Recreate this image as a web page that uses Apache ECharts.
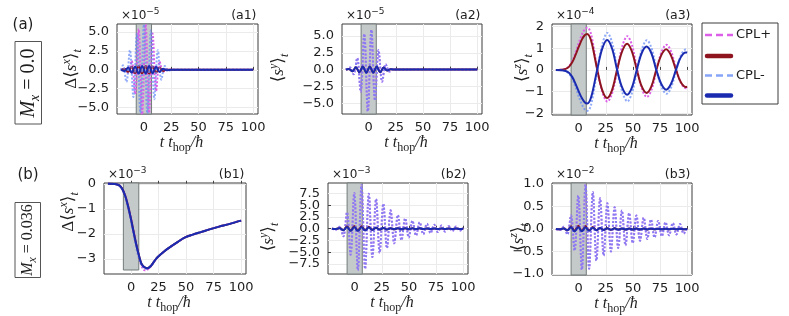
<!DOCTYPE html>
<html><head><meta charset="utf-8">
<script src="https://cdn.jsdelivr.net/npm/echarts@6/dist/echarts.min.js"></script>
<style>html,body{margin:0;padding:0;background:#fff}#c{width:789px;height:316px}</style>
</head><body><div id="c"></div>
<script>
// ---------------- DATA ----------------
const xTickValues = [0, 25, 50, 75, 100];
const pulseT = [-7, 7];
const b1ShadeY = [-3.44, 0.03];

const a1YTicks = [-5, -2.5, 0, 2.5, 5];
const a2YTicks = [-5, -2.5, 0, 2.5, 5];
const a3YTicks = [-2, -1, 0, 1, 2];
const b1YTicks = [-3, -2, -1, 0];
const b2YTicks = [-7.5, -2.5, 2.5, 7.5];
const b2YTicksAlt = [-5, 0, 5];
const b3YTicks = [-1, -0.5, 0, 0.5, 1];

const exponents = ['-5', '-5', '-4', '-3', '-3', '-2'];
const panelTags = ['(a1)', '(a2)', '(a3)', '(b1)', '(b2)', '(b3)'];

// (a1) Δ<s^x>_t  ×1e-5
const a1PlusDot = [[-21,0],[-17.6,0.1],[-14.4,-0.4],[-11.2,1.2],[-8,-3.2],[-4.8,5.4],[-1.6,-5.9],[1.6,6.0],[4.8,-5.7],[8,4.8],[11.2,-2.8],[14.4,1.1],[17.6,-0.3],[20.8,0.1],[25,0],[50,0],[75,0],[100,0]];
const a1PlusSolid = [[-21,0],[-17.6,0.15],[-14.4,-0.3],[-11.2,0.4],[-8,-0.45],[-4.8,0.5],[-1.6,-0.5],[1.6,0.5],[4.8,-0.5],[8,0.45],[11.2,-0.4],[14.4,0.3],[17.6,-0.15],[20.8,0.05],[25,0],[50,0],[75,0],[100,0]];
const a1MinusDot = [[-21,0],[-19.2,0.6],[-16,-1.6],[-12.8,2.6],[-9.6,-3.6],[-6.4,4.8],[-3.2,-5.7],[0,6.0],[3.2,-5.8],[6.4,5.2],[9.6,-3.9],[12.8,2.6],[16,-1.3],[19.2,0.5],[22.4,-0.1],[26,0],[50,0],[75,0],[100,0]];
const a1MinusSolid = [[-21,0],[-17.6,-0.15],[-14.4,0.3],[-11.2,-0.4],[-8,0.45],[-4.8,-0.5],[-1.6,0.5],[1.6,-0.5],[4.8,0.5],[8,-0.45],[11.2,0.4],[14.4,-0.3],[17.6,0.15],[20.8,-0.05],[25,0],[50,0],[75,0],[100,0]];

// (a2) <s^y>_t  ×1e-5 (CPL+ and CPL- coincide)
const a2Dot = [[-21,0],[-17.2,0.3],[-13.9,-0.7],[-10.6,1.7],[-7.4,-3.3],[-4.1,5.3],[-0.8,-6.2],[2.5,5.9],[5.8,-4.6],[9.1,2.9],[12.4,-1.8],[15.7,0.8],[19,-0.3],[22.3,0.1],[26,0],[50,0.05],[75,0],[100,0]];
const a2Solid = [[-21,0],[-18.2,0.1],[-15,-0.25],[-11.8,0.35],[-8.6,-0.4],[-5.4,0.45],[-2.2,-0.45],[1,0.45],[4.2,-0.45],[7.4,0.45],[10.6,-0.4],[13.8,0.3],[17,-0.15],[20.2,0.05],[25,0],[50,0],[75,0],[100,0]];

// (a3) <s^z>_t  ×1e-4
const a3PlusDot = [[-21,0],[-16,0.01],[-12,0.06],[-9,0.17],[-6,0.4],[-3,0.78],[0,1.24],[3,1.64],[5.6,1.87],[7.9,1.95],[10.2,1.83],[12.6,1.38],[17.2,0.02],[21.8,-1.03],[26.4,-1.46],[31,-1.04],[35.6,0.02],[40.2,1.1],[44.8,1.56],[49.3,1.11],[53.8,0.02],[58.3,-0.88],[62.8,-1.25],[67.3,-0.89],[71.8,0.02],[76.3,0.82],[80.9,1.16],[85.3,0.83],[89.9,0.02],[94.3,-0.6],[98.9,-0.85],[100,-0.84]];
const a3PlusSolid = [[-21,0],[-16,0.01],[-12,0.05],[-9,0.14],[-6,0.35],[-3,0.68],[0,1.06],[3,1.41],[5.5,1.6],[7.7,1.66],[10,1.55],[12.4,1.17],[17,0.03],[21.6,-0.92],[26.2,-1.3],[30.8,-0.92],[35.4,0.02],[40,0.86],[44.6,1.21],[49,0.86],[53.5,0.02],[58,-0.75],[62.5,-1.06],[67,-0.76],[71.5,0.01],[76,0.67],[80.6,0.95],[85,0.67],[89.6,0.01],[94,-0.56],[98.7,-0.79],[100,-0.78]];
const a3MinusDot = [[-21,0],[-16,-0.01],[-12,-0.06],[-9,-0.17],[-6,-0.4],[-3,-0.77],[0,-1.22],[3,-1.6],[5.6,-1.82],[7.9,-1.89],[10.2,-1.78],[12.6,-1.34],[17.2,0.0],[21.8,1.2],[26.4,1.71],[31,1.22],[35.6,0.0],[40.2,-1.02],[44.8,-1.45],[49.3,-1.03],[53.8,0.0],[58.3,0.97],[62.8,1.37],[67.3,0.98],[71.8,0.0],[76.3,-0.78],[80.9,-1.1],[85.3,-0.79],[89.9,0.0],[94.3,0.68],[98.9,0.95],[100,0.94]];
const a3MinusSolid = [[-21,0],[-16,-0.01],[-12,-0.05],[-9,-0.13],[-6,-0.32],[-3,-0.63],[0,-0.99],[3,-1.31],[5.5,-1.49],[7.7,-1.55],[10,-1.45],[12.4,-1.09],[17,0.0],[21.6,0.97],[26.2,1.38],[30.8,0.98],[35.4,0.0],[40,-0.81],[44.6,-1.15],[49,-0.82],[53.5,0.0],[58,0.77],[62.5,1.08],[67,0.77],[71.5,0.0],[76,-0.64],[80.6,-0.91],[85,-0.65],[89.6,0.0],[94,0.58],[98.7,0.81],[100,0.8]];

// (b1) Δ<s^x>_t  ×1e-3
const b1PlusDot = [[-21,0],[-15,-0.01],[-12,-0.04],[-9.8,-0.1],[-7.5,-0.24],[-5.2,-0.48],[-3,-0.82],[-0.6,-1.26],[1.5,-1.7],[3.1,-2.05],[4.7,-2.4],[6.2,-2.72],[7.7,-3.0],[9.2,-3.25],[10.8,-3.39],[12.4,-3.45],[14.8,-3.43],[17.9,-3.3],[21,-3.11],[24,-2.94],[30,-2.7],[36.3,-2.5],[42.5,-2.32],[48.6,-2.15],[56,-2.03],[64,-1.92],[72,-1.81],[80,-1.71],[88,-1.62],[95,-1.53],[100,-1.47]];
const b1PlusSolid = [[-21,0],[-15,-0.01],[-12,-0.04],[-9.8,-0.1],[-7.5,-0.25],[-5.2,-0.5],[-3,-0.85],[-0.6,-1.3],[1.5,-1.75],[3.1,-2.1],[4.7,-2.42],[6.2,-2.7],[7.7,-2.95],[9.2,-3.17],[10.8,-3.28],[12.4,-3.34],[14.8,-3.37],[17.9,-3.28],[21,-3.1],[24,-2.93],[30,-2.7],[36.3,-2.5],[42.5,-2.32],[48.6,-2.15],[56,-2.03],[64,-1.92],[72,-1.81],[80,-1.71],[88,-1.62],[95,-1.53],[100,-1.47]];
const b1MinusDot = [[-21,0],[-15,-0.01],[-12,-0.05],[-9.8,-0.12],[-7.5,-0.28],[-5.2,-0.55],[-3,-0.92],[-0.6,-1.38],[1.5,-1.85],[3.1,-2.2],[4.7,-2.55],[6.2,-2.82],[7.7,-3.05],[9.2,-3.22],[10.8,-3.32],[12.4,-3.38],[14.8,-3.4],[17.9,-3.29],[21,-3.1],[24,-2.93],[30,-2.7],[36.3,-2.5],[42.5,-2.32],[48.6,-2.15],[56,-2.03],[64,-1.92],[72,-1.81],[80,-1.71],[88,-1.62],[95,-1.53],[100,-1.47]];
const b1MinusSolid = [[-21,0],[-15,-0.01],[-12,-0.04],[-9.8,-0.1],[-7.5,-0.25],[-5.2,-0.5],[-3,-0.85],[-0.6,-1.3],[1.5,-1.75],[3.1,-2.1],[4.7,-2.42],[6.2,-2.7],[7.7,-2.95],[9.2,-3.17],[10.8,-3.28],[12.4,-3.34],[14.8,-3.37],[17.9,-3.28],[21,-3.1],[24,-2.93],[30,-2.7],[36.3,-2.5],[42.5,-2.32],[48.6,-2.15],[56,-2.03],[64,-1.92],[72,-1.81],[80,-1.71],[88,-1.62],[95,-1.53],[100,-1.47]];

// (b2) <s^y>_t  ×1e-3 (dotted CPL+ and CPL- coincide)
const b2Dot = [[-21,0],[-17.2,-0.2],[-13.8,0.4],[-10.5,-1.6],[-7.1,3.5],[-3.8,-5.5],[-0.4,7.6],[2.9,-8.8],[6.3,9.3],[9.6,-8.5],[13,7.4],[16.3,-6.0],[19.7,6.3],[23,-5.1],[26.4,5.3],[29.7,-4.1],[33.1,3.9],[36.4,-3.1],[39.8,2.9],[43.1,-2.4],[46.5,2.2],[49.8,-1.85],[53.2,1.7],[56.5,-1.45],[59.9,1.35],[63.2,-1.15],[66.6,1.05],[69.9,-0.9],[73.3,0.85],[76.6,-0.7],[80,0.7],[83.3,-0.6],[86.7,0.55],[90,-0.5],[93.4,0.45],[96.7,-0.4],[100,0.2]];
const b2PlusSolid = [[-21,0],[-17.2,-0.05],[-13.8,0.14],[-10.5,-0.3],[-7.1,0.55],[-3.8,-0.4],[-0.4,0.6],[2.9,-0.4],[6.3,0.55],[9.6,-0.3],[13,0.4],[16.3,-0.22],[19.7,0.2],[23,-0.17],[26.4,0.15],[29.7,-0.14],[33.1,0.12],[36.4,-0.12],[39.8,0.1],[43.1,-0.1],[46.5,0.1],[49.8,-0.09],[53.2,0.08],[56.5,-0.08],[59.9,0.08],[63.2,-0.07],[66.6,0.07],[69.9,-0.07],[73.3,0.06],[76.6,-0.06],[80,0.06],[83.3,-0.05],[86.7,0.05],[90,-0.05],[93.4,0.05],[96.7,-0.04],[100,0]];
const b2MinusSolid = [[-21,0],[-17.2,-0.05],[-13.8,0.12],[-10.5,-0.3],[-7.1,0.35],[-3.8,-0.45],[-0.4,0.3],[2.9,-0.45],[6.3,0.3],[9.6,-0.35],[13,0.25],[16.3,-0.25],[19.7,0.2],[23,-0.18],[26.4,0.15],[29.7,-0.15],[33.1,0.12],[36.4,-0.12],[39.8,0.1],[43.1,-0.1],[46.5,0.1],[49.8,-0.1],[53.2,0.08],[56.5,-0.08],[59.9,0.08],[63.2,-0.08],[66.6,0.07],[69.9,-0.07],[73.3,0.07],[76.6,-0.06],[80,0.06],[83.3,-0.06],[86.7,0.05],[90,-0.05],[93.4,0.05],[96.7,-0.05],[100,0]];

// (b3) <s^z>_t  ×1e-2 (dotted CPL+ and CPL- coincide)
const b3Dot = [[-21,0],[-17.2,-0.02],[-13.8,0.05],[-10.5,-0.12],[-7.1,0.3],[-3.8,-0.48],[-0.4,0.74],[2.9,-0.9],[6.3,0.98],[9.6,-0.88],[13,0.82],[16.3,-0.7],[19.7,0.68],[23,-0.59],[26.4,0.57],[29.7,-0.5],[33.1,0.48],[36.4,-0.42],[39.8,0.41],[43.1,-0.36],[46.5,0.35],[49.8,-0.31],[53.2,0.3],[56.5,-0.26],[59.9,0.25],[63.2,-0.22],[66.6,0.21],[69.9,-0.19],[73.3,0.18],[76.6,-0.16],[80,0.15],[83.3,-0.14],[86.7,0.13],[90,-0.12],[93.4,0.11],[96.7,-0.1],[100,0.03]];
const b3PlusSolid = [[-21,0],[-17.2,-0.005],[-13.8,0.015],[-10.5,-0.03],[-7.1,0.06],[-3.8,-0.04],[-0.4,0.07],[2.9,-0.04],[6.3,0.065],[9.6,-0.03],[13,0.045],[16.3,-0.025],[19.7,0.02],[23,-0.018],[26.4,0.016],[29.7,-0.015],[33.1,0.014],[36.4,-0.013],[39.8,0.012],[43.1,-0.012],[46.5,0.011],[49.8,-0.01],[53.2,0.01],[56.5,-0.01],[59.9,0.009],[63.2,-0.009],[66.6,0.008],[69.9,-0.008],[73.3,0.008],[76.6,-0.007],[80,0.007],[83.3,-0.007],[86.7,0.006],[90,-0.006],[93.4,0.006],[96.7,-0.005],[100,0]];
const b3MinusSolid = [[-21,0],[-17.2,-0.005],[-13.8,0.012],[-10.5,-0.03],[-7.1,0.04],[-3.8,-0.055],[-0.4,0.04],[2.9,-0.05],[6.3,0.035],[9.6,-0.04],[13,0.03],[16.3,-0.028],[19.7,0.022],[23,-0.02],[26.4,0.017],[29.7,-0.016],[33.1,0.014],[36.4,-0.014],[39.8,0.012],[43.1,-0.012],[46.5,0.011],[49.8,-0.011],[53.2,0.01],[56.5,-0.01],[59.9,0.009],[63.2,-0.009],[66.6,0.009],[69.9,-0.008],[73.3,0.008],[76.6,-0.008],[80,0.007],[83.3,-0.007],[86.7,0.006],[90,-0.006],[93.4,0.006],[96.7,-0.005],[100,0]];

// ---------------- STYLE / LAYOUT ----------------
const INK = '#1e1e1e';
const SERIF = '"Liberation Serif", "DejaVu Serif", serif';
const SANS = '"DejaVu Sans", sans-serif';
const COL = {
  plusDot: '#dc5fe8',
  plusSolid: '#8e1520',
  minusDot: 'rgba(100,137,246,0.72)',
  minusSolid: '#1b2bb0'
};
const X_RANGE = [-24.6, 104.4];

const panels = [
  {box:[117,24,141,90],  y:[-5.85,6.07], yt:a1YTicks, dec:1, s:[a1PlusDot,a1PlusSolid,a1MinusDot,a1MinusSolid], ylab:'{r|Δ⟨}{i|s}{sup|x}{r|⟩}{sub|t}', ylx:72,  yly:69,  shade:null},
  {box:[342,24,140,90],  y:[-6.6,6.78],  yt:a2YTicks, dec:1, s:[a2Dot,a2Solid,a2Dot,a2Solid], ylab:'{r|⟨}{i|s}{sup|y}{r|⟩}{sub|t}', ylx:279, yly:68, shade:null},
  {box:[552,24,140,91],  y:[-2.08,2.12], yt:a3YTicks, dec:0, s:[a3PlusDot,a3PlusSolid,a3MinusDot,a3MinusSolid], ylab:'{r|⟨}{i|s}{sup|z}{r|⟩}{sub|t}', ylx:523, yly:68, shade:null},
  {box:[104,183,142,91], y:[-3.6,0.03],  yt:b1YTicks, dec:0, s:[b1PlusDot,b1PlusSolid,b1MinusDot,b1MinusSolid], ylab:'{r|Δ⟨}{i|s}{sup|x}{r|⟩}{sub|t}', ylx:69, yly:212, shade:b1ShadeY},
  {box:[328,183,140,91], y:[-9.6,9.7],   yt:b2YTicks, yt2:b2YTicksAlt, dec:1, s:[b2Dot,b2PlusSolid,b2Dot,b2MinusSolid], ylab:'{r|⟨}{i|s}{sup|y}{r|⟩}{sub|t}', ylx:269, yly:237, shade:null},
  {box:[552,183,140,92], y:[-1.02,1.02], yt:b3YTicks, dec:1, s:[b3Dot,b3PlusSolid,b3Dot,b3MinusSolid], ylab:'{r|⟨}{i|s}{sup|z}{r|⟩}{sub|t}', ylx:519, yly:237, shade:null}
];

function mathRich(size) {
  const lh = Math.round(size * 1.35), sl = Math.round(size * 0.72);
  return {
    r:   {fontFamily: SERIF, fontSize: size, lineHeight: lh, fill: INK},
    i:   {fontFamily: SERIF, fontSize: size, lineHeight: lh, fontStyle: 'italic', fill: INK},
    sup: {fontFamily: SERIF, fontSize: sl, lineHeight: sl, fontStyle: 'italic', verticalAlign: 'top', fill: INK},
    sub: {fontFamily: SERIF, fontSize: sl, lineHeight: sl, fontStyle: 'italic', verticalAlign: 'bottom', fill: INK},
    subr:{fontFamily: SERIF, fontSize: sl, lineHeight: sl, verticalAlign: 'bottom', fill: INK}
  };
}
function fmt(dec) {
  return v => Number(v).toFixed(dec).replace('-', '−');
}
function yAxisDef(i, p, ticks) {
  return {type: 'value', gridIndex: i, position: 'left', offset: 0, min: p.y[0], max: p.y[1],
    axisLine: {show: false},
    axisTick: {show: true, inside: true, length: 3, customValues: ticks, lineStyle: {color: '#444'}},
    axisLabel: {customValues: ticks, margin: 8, fontSize: 13, fontFamily: SANS, color: INK, formatter: fmt(p.dec),
                showMinLabel: true, showMaxLabel: true, hideOverlap: false},
    splitLine: {show: true, lineStyle: {color: '#ebebeb', width: 1}}};
}

const grids = [], xAxes = [], yAxes = [], extraY = [], series = [], graphics = [];
const kinds = ['plusDot', 'plusSolid', 'minusDot', 'minusSolid'];

panels.forEach((p, i) => {
  const [l, t, w, h] = p.box;
  grids.push({left: l, top: t, width: w, height: h, show: true, borderColor: '#3c3c3c', borderWidth: 1,
              backgroundColor: '#fff', containLabel: false, outerBoundsMode: 'none'});
  xAxes.push({type: 'value', gridIndex: i, min: X_RANGE[0], max: X_RANGE[1],
    axisLine: {show: false},
    axisTick: {show: true, inside: true, length: 3, customValues: xTickValues, lineStyle: {color: '#444'}},
    axisLabel: {customValues: xTickValues, margin: 7, fontSize: 13, fontFamily: SANS, color: INK, formatter: fmt(0),
                showMinLabel: true, showMaxLabel: true, hideOverlap: false},
    splitLine: {show: true, lineStyle: {color: '#ebebeb', width: 1}}});
  yAxes.push(yAxisDef(i, p, p.yt));
  if (p.yt2) extraY.push(yAxisDef(i, p, p.yt2));

  const area = p.shade
    ? [[{xAxis: pulseT[0], yAxis: p.shade[0]}, {xAxis: pulseT[1], yAxis: p.shade[1]}]]
    : [[{xAxis: pulseT[0]}, {xAxis: pulseT[1]}]];
  series.push({type: 'line', xAxisIndex: i, yAxisIndex: i, data: [], z: 1, silent: true,
    markArea: {silent: true, itemStyle: {color: '#c4cac9', borderColor: '#727b7a', borderWidth: 1, opacity: 1}, data: area}});

  p.s.forEach((d, k) => {
    const dotted = kinds[k].endsWith('Dot');
    series.push({type: 'line', xAxisIndex: i, yAxisIndex: i, data: d, symbol: 'none', showSymbol: false,
      smooth: 0.35, animation: false, silent: true, z: 3 + k,
      lineStyle: {color: COL[kinds[k]], width: 2, type: dotted ? [2, 1.7] : 'solid'}});
  });

  graphics.push({type: 'text', x: l + 4, y: t - 8.5, z: 50, style: {
    text: '{a|×10}{s|' + exponents[i].replace('-', '−') + '}', align: 'left', verticalAlign: 'middle',
    rich: {a: {fontFamily: SANS, fontSize: 12, lineHeight: 17, fill: INK},
           s: {fontFamily: SANS, fontSize: 9, lineHeight: 9, verticalAlign: 'top', fill: INK}}}});
  graphics.push({type: 'text', x: l + w - 1.5, y: t - 8.5, z: 50, style: {
    text: panelTags[i], align: 'right', verticalAlign: 'middle', font: '12.5px ' + SANS, fill: INK}});
  graphics.push({type: 'text', x: p.ylx, y: p.yly, rotation: Math.PI / 2, z: 50, style: {
    text: p.ylab, align: 'center', verticalAlign: 'middle', rich: mathRich(17)}});
  graphics.push({type: 'text', x: l + w / 2 - 6, y: t + h + 29, z: 50, style: {
    text: '{i|t t}{subr|hop}{i|/ħ}', align: 'center', verticalAlign: 'middle', rich: mathRich(16)}});
});

graphics.push({type: 'text', x: 23, y: 25, style: {text: '(a)', font: '15px ' + SANS, fill: INK, align: 'center', verticalAlign: 'middle'}});
graphics.push({type: 'text', x: 28, y: 175, style: {text: '(b)', font: '15px ' + SANS, fill: INK, align: 'center', verticalAlign: 'middle'}});
graphics.push({type: 'rect', shape: {x: 15, y: 41.5, width: 26.5, height: 82.5}, style: {fill: '#fff', stroke: '#555', lineWidth: 1}});
graphics.push({type: 'text', x: 28.5, y: 83, rotation: Math.PI / 2, z: 10, style: {
  text: '{i|M}{sub|x}{r| = 0.0}', align: 'center', verticalAlign: 'middle', rich: mathRich(20)}});
graphics.push({type: 'rect', shape: {x: 15, y: 202.5, width: 25.5, height: 75}, style: {fill: '#fff', stroke: '#555', lineWidth: 1}});
graphics.push({type: 'text', x: 28, y: 240, rotation: Math.PI / 2, z: 10, style: {
  text: '{i|M}{sub|x}{r| = 0.036}', align: 'center', verticalAlign: 'middle', rich: mathRich(16)}});

const LG = {x: 702, y: 23, w: 76, h: 81};
graphics.push({type: 'rect', shape: {x: LG.x, y: LG.y, width: LG.w, height: LG.h}, style: {fill: '#fff', stroke: '#3c3c3c', lineWidth: 1}});
const legendRows = [
  {y: 35, color: '#dc5fe8', dash: true, label: 'CPL+'},
  {y: 56, color: COL.plusSolid, dash: false, label: ''},
  {y: 75.5, color: 'rgb(135,165,248)', dash: true, label: 'CPL-'},
  {y: 95.5, color: COL.minusSolid, dash: false, label: ''}
];
legendRows.forEach(r => {
  graphics.push({type: 'line', z: 20, shape: {x1: r.dash ? 705 : 707, y1: r.y, x2: r.dash ? 733 : 731, y2: r.y},
    style: {stroke: r.color, lineWidth: r.dash ? 2.5 : 4.5, lineDash: r.dash ? [7, 4] : null, lineCap: r.dash ? 'butt' : 'round'}});
  if (r.label) graphics.push({type: 'text', z: 20, x: 736, y: r.y, style: {text: r.label, font: '13px ' + SANS, fill: INK, align: 'left', verticalAlign: 'middle'}});
});

const chart = echarts.init(document.getElementById('c'), null, {renderer: 'canvas'});
chart.setOption({
  animation: false,
  backgroundColor: '#fff',
  textStyle: {fontFamily: SANS},
  grid: grids, xAxis: xAxes, yAxis: yAxes.concat(extraY), series: series, graphic: graphics
});
</script></body></html>
